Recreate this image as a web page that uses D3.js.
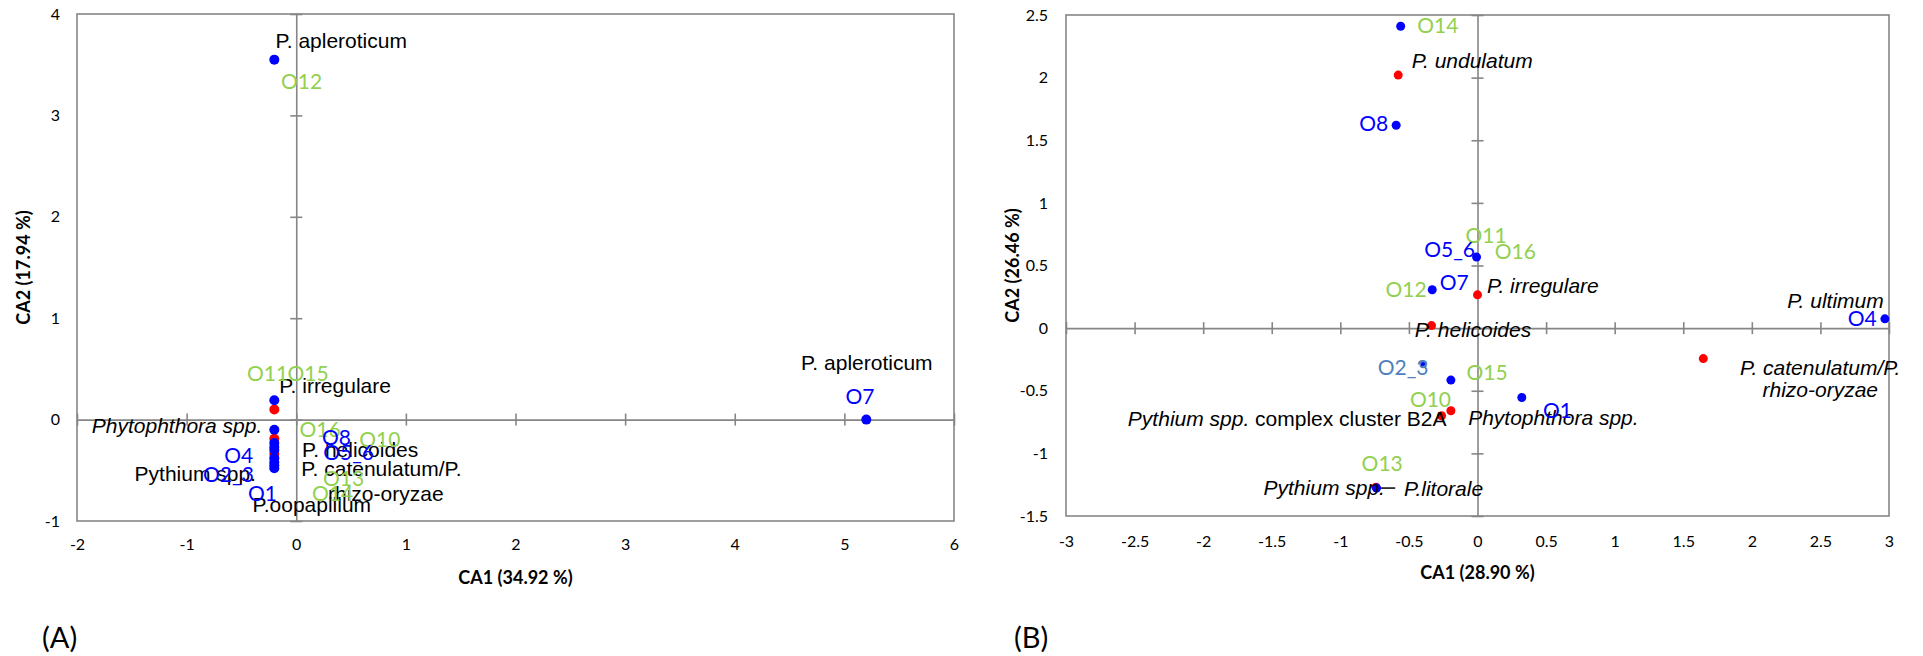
<!DOCTYPE html>
<html>
<head>
<meta charset="utf-8">
<script src="https://cdn.jsdelivr.net/npm/d3@7"></script>
<style>
  body { margin: 0; background: #fff; }
</style>
</head>
<body>
<div id="chart"></div>
<script>
// ---------- panel A data ----------
const xTicksA = [-2, -1, 0, 1, 2, 3, 4, 5, 6];
const yTicksA = [-1, 0, 1, 2, 3, 4];
// sites (blue) and species (red) scores
const blueA = [[-0.2, 3.55], [-0.2, 0.19], [-0.2, -0.1], [-0.2, -0.23], [-0.2, -0.27],
  [-0.2, -0.3], [-0.2, -0.38], [-0.2, -0.42], [-0.2, -0.45], [-0.2, -0.48], [5.2, 0]];
const redA = [[-0.2, 0.1], [-0.2, -0.19], [-0.2, -0.34]];
// label anchors, in data units
const greenLabelsA = [["O12", -0.14, 3.26], ["O11", -0.45, 0.38], ["O15", -0.08, 0.38],
  ["O16", 0.03, -0.176], ["O10", 0.575, -0.274], ["O13", 0.244, -0.65], ["O14", 0.143, -0.8]];
const blueLabelsA = [["O8", 0.235, -0.255], ["O5_6", 0.246, -0.4], ["O4", -0.657, -0.43],
  ["O2_3", -0.85, -0.62], ["O1", -0.44, -0.8], ["O7", 5.01, 0.157]];
const speciesLabelsA = [["P. apleroticum", -0.19, 3.66], ["P. irregulare", -0.155, 0.26],
  ["P. helicoides", 0.052, -0.37], ["P. catenulatum/P.", 0.046, -0.56],
  ["Pythium spp.", -1.475, -0.61], ["rhizo-oryzae", 0.29, -0.8],
  ["P.oopapillum", -0.4, -0.91], ["P. apleroticum", 4.605, 0.486]];
const italicEndLabelsA = [["Phytophthora spp.", -0.31, -0.133]];

// ---------- panel B data ----------
const xTicksB = [-3, -2.5, -2, -1.5, -1, -0.5, 0, 0.5, 1, 1.5, 2, 2.5, 3];
const yTicksB = [-1.5, -1, -0.5, 0, 0.5, 1, 1.5, 2, 2.5];
const blueB = [[-0.56, 2.41], [-0.593, 1.62], [-0.007, 0.567], [-0.33, 0.306],
  [-0.194, -0.415], [0.323, -0.554], [-0.736, -1.277], [2.97, 0.074]];
const steelB = [[-0.396, -0.29]];
const redB = [[-0.578, 2.02], [0, 0.266], [-0.335, 0.02], [-0.194, -0.66],
  [-0.262, -0.7], [1.646, -0.243], [-0.74, -1.27]];
const greenLabelsB = [["O14", -0.44, 2.36], ["O11", -0.087, 0.683], ["O16", 0.126, 0.553],
  ["O15", -0.08, -0.413], ["O10", -0.493, -0.63], ["O13", -0.845, -1.144]];
const greenEndLabelsB = [["O12", -0.371, 0.252]];
const blueLabelsB = [["O5_6", -0.389, 0.567], ["O7", -0.275, 0.306], ["O1", 0.478, -0.718]];
const blueEndLabelsB = [["O8", -0.651, 1.575], ["O4", 2.91, 0.013]];
const steelLabelsB = [["O2_3", -0.728, -0.378]];
const italicLabelsB = [["P. undulatum", -0.48, 2.075], ["P. irregulare", 0.07, 0.279],
  ["P. helicoides", -0.457, -0.072], ["Phytophthora spp.", -0.068, -0.772],
  ["P.litorale", -0.535, -1.344]];
const italicEndLabelsB = [["P. ultimum", 2.962, 0.16], ["Pythium spp.", -0.675, -1.33]];
const italicMidLabelsB = [["P. catenulatum/P.", 2.499, -0.373], ["rhizo-oryzae", 2.499, -0.546]];
const leaderB = [[-0.736, -1.277, -0.6, -1.277]];

// ---------- drawing ----------
const gray = "#868686";
const green = "#92D050";
const blue = "#0000FF";
const steel = "#4F81BD";
const red = "#FF0000";
const calibri = "Lato, 'Open Sans', sans-serif";
const arial = "'Liberation Sans', Arial, sans-serif";

const svg = d3.select("#chart").append("svg")
  .attr("width", 1923).attr("height", 656);

function panel(o) {
  const x = d3.scaleLinear().domain(o.xDom).range([o.left, o.right]);
  const y = d3.scaleLinear().domain(o.yDom).range([o.bottom, o.top]);
  const g = svg.append("g");
  const fmt = d => String(d);

  // frame
  g.append("rect")
    .attr("x", o.left).attr("y", o.top)
    .attr("width", o.right - o.left).attr("height", o.bottom - o.top)
    .attr("fill", "none").attr("stroke", gray).attr("stroke-width", 1.6);

  // zero lines with crossing tick marks
  const hz = g.append("g").attr("transform", `translate(0,${y(0)})`)
    .call(d3.axisBottom(x).tickValues(o.xTicks).tickSizeOuter(0).tickFormat(""));
  hz.selectAll(".tick line").attr("y1", -6).attr("y2", 6);
  const vz = g.append("g").attr("transform", `translate(${x(0)},0)`)
    .call(d3.axisLeft(y).tickValues(o.yTicks).tickSizeOuter(0).tickFormat(""));
  vz.selectAll(".tick line").attr("x1", -6).attr("x2", 6);
  [hz, vz].forEach(a => {
    a.selectAll("path, line").attr("stroke", gray).attr("stroke-width", 1.6);
  });

  // tick labels at the frame
  const xl = g.append("g").attr("transform", `translate(0,${o.bottom})`)
    .call(d3.axisBottom(x).tickValues(o.xTicks).tickSize(0).tickPadding(o.xPad).tickFormat(fmt));
  const yl = g.append("g").attr("transform", `translate(${o.left},0)`)
    .call(d3.axisLeft(y).tickValues(o.yTicks).tickSize(0).tickPadding(o.yPad).tickFormat(fmt));
  [xl, yl].forEach(a => {
    a.select(".domain").remove();
    a.selectAll("text").attr("font-family", calibri).attr("font-size", 16).attr("fill", "#000");
  });

  // axis titles
  g.append("text")
    .attr("x", (o.left + o.right) / 2).attr("y", o.bottom + 63)
    .attr("text-anchor", "middle")
    .attr("font-family", calibri).attr("font-weight", "bold").attr("font-size", 18)
    .text(o.xTitle);
  g.append("text")
    .attr("transform", `translate(${o.left - 47},${(o.top + o.bottom) / 2}) rotate(-90)`)
    .attr("text-anchor", "middle")
    .attr("font-family", calibri).attr("font-weight", "bold").attr("font-size", 18)
    .text(o.yTitle);

  // panel letter
  g.append("text")
    .attr("x", o.letterX).attr("y", 648)
    .attr("font-family", calibri).attr("font-size", 29)
    .text(o.letter);

  // leader lines
  g.selectAll(".leader").data(o.leaders || []).join("line")
    .attr("x1", d => x(d[0])).attr("y1", d => y(d[1]))
    .attr("x2", d => x(d[2])).attr("y2", d => y(d[3]))
    .attr("stroke", "#000").attr("stroke-width", 1.5);

  // points
  const dots = (data, fill, r, stroke) => g.append("g").selectAll("circle")
    .data(data).join("circle")
    .attr("cx", d => x(d[0])).attr("cy", d => y(d[1]))
    .attr("r", r).attr("fill", fill)
    .attr("stroke", stroke || "none").attr("stroke-width", 1.5);
  dots(o.red, red, o.r);
  dots(o.blue, blue, o.r);
  if (o.steel) dots(o.steel, blue, o.r - 1.5, steel);

  // labels
  const labels = (data, color, font, size, anchor, italic) => g.append("g")
    .selectAll("text").data(data || []).join("text")
    .attr("x", d => x(d[1])).attr("y", d => y(d[2]))
    .attr("text-anchor", anchor)
    .attr("font-family", font).attr("font-size", size)
    .attr("font-style", italic ? "italic" : "normal")
    .attr("fill", color)
    .text(d => d[0]);
  o.labelSets.forEach(s => labels(...s));
  return { g, x, y };
}

panel({
  left: 77, right: 954, top: 14, bottom: 521,
  xDom: [-2, 6], yDom: [-1, 4], xTicks: xTicksA, yTicks: yTicksA,
  xPad: 18, yPad: 17, r: 5,
  xTitle: "CA1 (34.92 %)", yTitle: "CA2 (17.94 %)",
  letter: "(A)", letterX: 42,
  blue: blueA, red: redA,
  labelSets: [
    [speciesLabelsA, "#000", arial, 21, "start", false],
    [italicEndLabelsA, "#000", arial, 21, "end", true],
    [greenLabelsA, green, calibri, 21, "start", false],
    [blueLabelsA, blue, calibri, 21, "start", false]
  ]
});

const pB = panel({
  left: 1066, right: 1889, top: 15, bottom: 516,
  xDom: [-3, 3], yDom: [-1.5, 2.5], xTicks: xTicksB, yTicks: yTicksB,
  xPad: 20, yPad: 18, r: 4.5,
  xTitle: "CA1 (28.90 %)", yTitle: "CA2 (26.46 %)",
  letter: "(B)", letterX: 1014,
  blue: blueB, red: redB, steel: steelB, leaders: leaderB,
  labelSets: [
    [italicLabelsB, "#000", arial, 21, "start", true],
    [italicEndLabelsB, "#000", arial, 21, "end", true],
    [italicMidLabelsB, "#000", arial, 21, "middle", true],
    [greenLabelsB, green, calibri, 21, "start", false],
    [greenEndLabelsB, green, calibri, 21, "end", false],
    [blueLabelsB, blue, calibri, 21, "start", false],
    [blueEndLabelsB, blue, calibri, 21, "end", false],
    [steelLabelsB, steel, calibri, 21, "start", false]
  ]
});

// mixed-style label: italic genus part + plain remainder
const mixed = pB.g.append("text")
  .attr("x", pB.x(-0.226)).attr("y", pB.y(-0.78))
  .attr("text-anchor", "end")
  .attr("font-family", arial).attr("font-size", 21);
mixed.append("tspan").attr("font-style", "italic").text("Pythium spp.");
mixed.append("tspan").text(" complex cluster B2A");
</script>
</body>
</html>
